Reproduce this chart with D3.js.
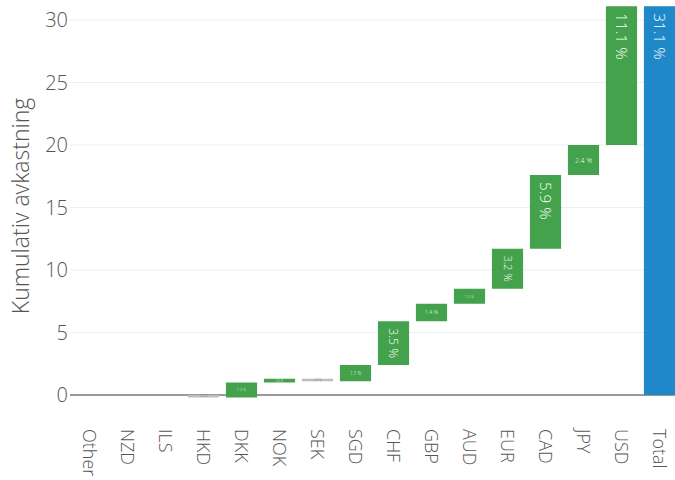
<!DOCTYPE html>
<html>
<head>
<meta charset="utf-8">
<script src="https://cdn.jsdelivr.net/npm/d3@7"></script>
<style>
  body { margin: 0; background: #fff; }
  svg { display: block; font-family: "Open Sans", "Noto Sans", sans-serif; }
</style>
</head>
<body>
<svg id="chart" width="675" height="480"></svg>
<script>
// ---- data ----
const categories = ["Other","NZD","ILS","HKD","DKK","NOK","SEK","SGD","CHF","GBP","AUD","EUR","CAD","JPY","USD","Total"];
const changes = [0.0, 0.0, 0.0, -0.2, 1.2, 0.3, -0.2, 1.3, 3.5, 1.4, 1.2, 3.2, 5.9, 2.4, 11.1];
const totalValue = 31.1;
const yTicks = [0, 5, 10, 15, 20, 25, 30];
const yTitle = "Kumulativ avkastning";

// ---- build waterfall rows ----
let cum = 0;
const rows = changes.map((v, i) => {
  const start = cum; cum += v;
  return { cat: categories[i], start, end: cum, value: v, type: v >= 0 ? "inc" : "dec" };
});
rows.push({ cat: categories[categories.length - 1], start: 0, end: totalValue, value: totalValue, type: "total" });

const colors = { inc: "#43a24b", dec: "#bdbdbd", total: "#1f88c9" };
const textColors = { inc: "#ffffff", dec: "#666666", total: "#ffffff" };

const svg = d3.select("#chart");
const x = d3.scaleBand().domain(categories).range([70.5, 678.5]).paddingInner(0.18).paddingOuter(0.09);
const y = d3.scaleLinear().domain([-1.6, 31.6]).range([415, 0]);

// gridlines
svg.append("g").selectAll("line").data(yTicks.filter(t => t !== 0)).join("line")
  .attr("x1", 70).attr("x2", 675)
  .attr("y1", d => y(d)).attr("y2", d => y(d))
  .attr("stroke", "#eeeeee").attr("stroke-width", 1);
// zero line
svg.append("line").attr("x1", 70).attr("x2", 675).attr("y1", y(0)).attr("y2", y(0))
  .attr("stroke", "#999999").attr("stroke-width", 2);

// y tick labels
svg.append("g").selectAll("text").data(yTicks).join("text")
  .attr("x", 68).attr("y", d => y(d)).attr("dy", "0.36em")
  .attr("text-anchor", "end").attr("fill", "#555").attr("font-size", 20).attr("font-weight", 300)
  .text(d => d);

// y title
svg.append("text")
  .attr("transform", `translate(29, 206) rotate(-90)`)
  .attr("text-anchor", "middle").attr("fill", "#555").attr("font-size", 23).attr("font-weight", 300)
  .text(yTitle);

// x tick labels
svg.append("g").selectAll("text").data(categories).join("text")
  .attr("transform", d => `translate(${x(d) + x.bandwidth() / 2}, 429) rotate(90)`)
  .attr("dy", "0.36em").attr("text-anchor", "start")
  .attr("fill", "#555").attr("font-size", 18).attr("font-weight", 300)
  .text(d => d);

// bars
const bw = x.bandwidth();
svg.append("g").selectAll("rect").data(rows.filter(d => d.start !== d.end)).join("rect")
  .attr("x", d => x(d.cat)).attr("width", bw)
  .attr("y", d => y(Math.max(d.start, d.end)))
  .attr("height", d => Math.abs(y(d.start) - y(d.end)))
  .attr("fill", d => colors[d.type]);

// inside text
const fmt = d3.format(".1f");
const baseSize = 16, th = 22, padLen = 7, padThick = 5;
const tg = svg.append("g");
rows.forEach(d => {
  const top = y(Math.max(d.start, d.end));
  const h = Math.abs(y(d.start) - y(d.end));
  if (h < 2) return;
  const label = fmt(d.value).replace("\u2212", "-") + " %";
  const t = tg.append("text").attr("font-size", baseSize).attr("font-weight", 300)
    .attr("fill", textColors[d.type]).text(label);
  const tw = t.node().getComputedTextLength();
  const sHor = Math.min(1, (bw - 2 * padLen) / tw, (h - 2 * padThick) / th);
  const sRot = Math.min(1, (h - 2 * padLen) / tw, (bw - 2 * padThick) / th);
  const cx = x(d.cat) + bw / 2;
  if (sRot > sHor && sRot > 0.3) {
    const s = sRot;
    t.attr("font-size", baseSize * s)
      .attr("text-anchor", "start").attr("dy", "0.36em")
      .attr("transform", `translate(${cx}, ${top + (s >= 1 ? 10 : 7)}) rotate(90)`);
  } else {
    const s = Math.max(sHor, 0.18);
    t.attr("font-size", baseSize * s)
      .attr("text-anchor", "middle").attr("dy", "0.36em")
      .attr("x", cx).attr("y", top + h / 2);
  }
});
</script>
</body>
</html>
